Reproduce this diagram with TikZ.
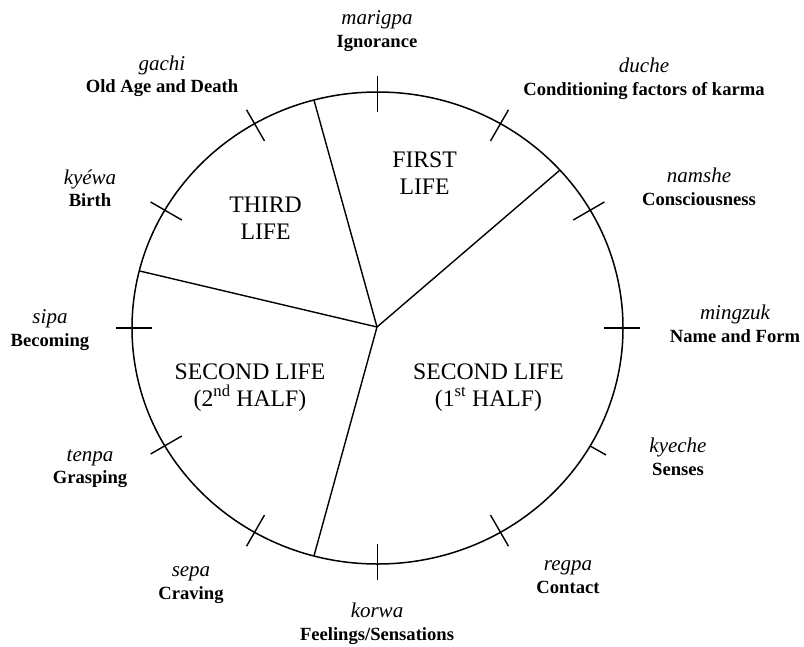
\documentclass[tikz,border=0pt]{standalone}
\usepackage{fontspec}
\setmainfont{Liberation Serif}
\usetikzlibrary{calc}
\newcommand\tibname[1]{{\fontsize{21}{22.5}\selectfont\itshape #1}}
\begin{document}
\begin{tikzpicture}[x=1pt,y=-1pt,
  rim/.style={line width=1.5pt},
  spoke/.style={line width=1.4pt},
  tickmark/.style={line width=1.4pt},
  lbl/.style={align=center,anchor=base,inner sep=0pt,font=\fontsize{18.6}{22.5}\selectfont},
  lifelbl/.style={align=center,anchor=base,inner sep=0pt,font=\fontsize{23.7}{27}\selectfont}]
\useasboundingbox (0,0) rectangle (804,646);
\coordinate (C) at (377.5,328);
\coordinate (O) at (377,327);
\draw[rim] (C) ellipse [x radius=245.5, y radius=236];
% spokes
\coordinate (s1) at ($(C)+(-105:245.5 and 236)$);
\coordinate (s2) at ($(C)+(-42:245.5 and 236)$);
\coordinate (s3) at ($(C)+(-166:245.5 and 236)$);
\coordinate (s4) at ($(C)+(-255:245.5 and 236)$);
\draw[spoke] (O) -- (s1);
\draw[spoke] (O) -- (s2);
\draw[spoke] (O) -- (s3);
\draw[spoke] (O) -- (s4);
% ticks
\foreach \t/\n in {90/a,60/b,30/c,0/d,-60/f,-90/g,-120/h,-150/i,180/j,150/k,120/l}{
  \coordinate (to\n) at ($(C)+(-\t:262 and 252)$);
  \coordinate (ti\n) at ($(C)+(-\t:226 and 216)$);
  \draw[tickmark] (to\n) -- (ti\n);
}
\coordinate (toe) at ($(C)+(30:264 and 254)$);
\coordinate (tie) at ($(C)+(30:245.5 and 236)$);
\draw[tickmark] (toe) -- (tie);
% labels (anchor = baseline of the last line)
\node[lbl] (marigpa) at (377,47) {\tibname{marigpa}\\\textbf{Ignorance}};
\node[lbl] (duche) at (644,95) {\tibname{duche}\\\textbf{Conditioning factors of karma}};
\node[lbl] (namshe) at (699,205) {\tibname{namshe}\\\textbf{Consciousness}};
\node[lbl] (mingzuk) at (735,342) {\tibname{mingzuk}\\\textbf{Name and Form}};
\node[lbl] (kyeche) at (678,475) {\tibname{kyeche}\\\textbf{Senses}};
\node[lbl] (regpa) at (568,593) {\tibname{regpa}\\\textbf{Contact}};
\node[lbl] (korwa) at (377,640) {\tibname{korwa}\\\textbf{Feelings/Sensations}};
\node[lbl] (sepa) at (191,599) {\tibname{sepa}\\\textbf{Craving}};
\node[lbl] (tenpa) at (90,483.5) {\tibname{tenpa}\\\textbf{Grasping}};
\node[lbl] (sipa) at (50,346) {\tibname{sipa}\\\textbf{Becoming}};
\node[lbl] (kyewa) at (90,206.5) {\tibname{kyéwa}\\\textbf{Birth}};
\node[lbl] (gachi) at (162,92.7) {\tibname{gachi}\\\textbf{Old Age and Death}};
% life labels
\node[lifelbl] (first) at (424.6,194) {FIRST\\LIFE};
\node[lifelbl] (third) at (265.6,239) {THIRD\\LIFE};
\node[lifelbl] (second2) at (250,406) {SECOND LIFE\\(2\textsuperscript{nd} HALF)};
\node[lifelbl] (second1) at (488.5,406) {SECOND LIFE\\(1\textsuperscript{st} HALF)};
\end{tikzpicture}
\end{document}
